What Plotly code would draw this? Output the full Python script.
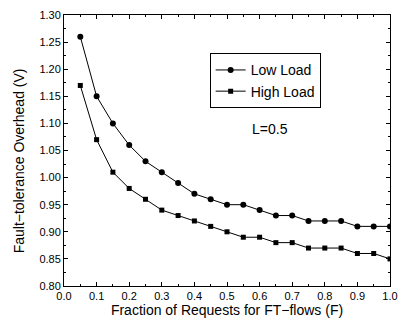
import plotly.graph_objects as go

F = [0.05, 0.10, 0.15, 0.20, 0.25, 0.30, 0.35, 0.40, 0.45, 0.50,
     0.55, 0.60, 0.65, 0.70, 0.75, 0.80, 0.85, 0.90, 0.95, 1.00]
low_load = [1.26, 1.15, 1.10, 1.06, 1.03, 1.01, 0.99, 0.97, 0.96, 0.95,
            0.95, 0.94, 0.93, 0.93, 0.92, 0.92, 0.92, 0.91, 0.91, 0.91]
high_load = [1.17, 1.07, 1.01, 0.98, 0.96, 0.94, 0.93, 0.92, 0.91, 0.90,
             0.89, 0.89, 0.88, 0.88, 0.87, 0.87, 0.87, 0.86, 0.86, 0.85]
x_ticks = [0.0, 0.1, 0.2, 0.3, 0.4, 0.5, 0.6, 0.7, 0.8, 0.9, 1.0]
y_ticks = [0.80, 0.85, 0.90, 0.95, 1.00, 1.05, 1.10, 1.15, 1.20, 1.25, 1.30]

font = "Liberation Sans, Arial, sans-serif"

fig = go.Figure()
fig.add_trace(go.Scatter(x=F, y=low_load, mode="lines+markers", name="Low Load",
                         line=dict(color="black", width=1),
                         marker=dict(symbol="circle", size=6, color="black")))
fig.add_trace(go.Scatter(x=F, y=high_load, mode="lines+markers", name="High Load",
                         line=dict(color="black", width=1),
                         marker=dict(symbol="square", size=5, color="black")))

fig.add_annotation(x=0.632, y=1.090, text="L=0.5", showarrow=False,
                   font=dict(family=font, size=14, color="black"))
# y-axis title (placed as annotation to match original offset)
fig.add_annotation(xref="paper", yref="paper", x=-0.138, y=0.46,
                   text="Fault\u2212tolerance Overhead (V)", textangle=-90,
                   showarrow=False, xanchor="center", yanchor="middle",
                   font=dict(family=font, size=14, color="black"))

axis_common = dict(showgrid=False, zeroline=False, showline=True, linecolor="black",
                   linewidth=1, mirror="allticks", ticks="inside", ticklen=4,
                   tickcolor="black", tickfont=dict(family=font, size=11, color="black"))

fig.update_xaxes(range=[0, 1.0], tickvals=x_ticks, ticktext=[f"{v:.1f}" for v in x_ticks],
                 minor=dict(ticks="inside", dtick=0.05, ticklen=2, tickcolor="black"),
                 title=dict(text="Fraction of Requests for FT\u2212flows (F)",
                            font=dict(family=font, size=14, color="black"), standoff=2),
                 **axis_common)
fig.update_yaxes(range=[0.80, 1.30], tickvals=y_ticks, ticktext=[f"{v:.2f}" for v in y_ticks],
                 minor=dict(ticks="inside", dtick=0.025, ticklen=2, tickcolor="black"),
                 **axis_common)

fig.update_layout(width=407, height=326, margin=dict(l=64, r=9, t=10, b=40),
                  plot_bgcolor="white", paper_bgcolor="white",
                  font=dict(family=font, color="black"),
                  legend=dict(x=0.617, y=0.757, xanchor="center", yanchor="middle",
                              bordercolor="black", borderwidth=1, bgcolor="white",
                              font=dict(family=font, size=14, color="black"),
                              tracegroupgap=0, itemwidth=30))

fig.write_html("out.html")
